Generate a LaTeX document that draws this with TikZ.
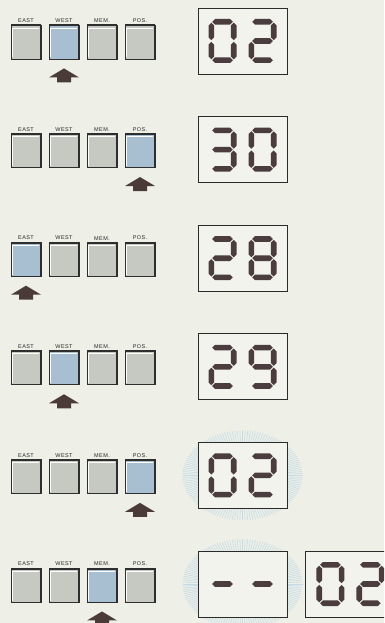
\documentclass[tikz,border=0pt]{standalone}
\usepackage{fontspec}
\newfontfamily\lblfont[LetterSpace=8]{Liberation Sans}
\usetikzlibrary{positioning}
\definecolor{paper}{HTML}{EEF0E8}
\definecolor{btngray}{HTML}{C6C9C1}
\definecolor{btnblue}{HTML}{A7BFD1}
\definecolor{btnedge}{HTML}{2E2E2E}
\definecolor{segdark}{HTML}{4B3C3D}
\definecolor{pointerdark}{HTML}{4A3A38}
\definecolor{lcdfill}{HTML}{F1F3EC}
\definecolor{lcdedge}{HTML}{2A2A2A}
\definecolor{rayblue}{HTML}{C6DCE4}
\tikzset{
  btn/.style={minimum width=30pt,minimum height=34pt,inner sep=0pt,
    draw=btnedge,line width=0.9pt,fill=btngray,
    path picture={
      \draw[white,line width=0.8pt] ([shift={(1.5pt,1.5pt)}]path picture bounding box.south west)
        |- ([shift={(-2.5pt,-3pt)}]path picture bounding box.north east);
      \draw[btnedge,line width=3pt] (path picture bounding box.north west) -- (path picture bounding box.north east);
      \draw[btnedge,line width=2pt] (path picture bounding box.north east) -- (path picture bounding box.south east);
    }},
  btnon/.style={btn,fill=btnblue},
  keylbl/.style={font=\lblfont\fontsize{5.5}{6}\selectfont,inner sep=0.5pt,text=black!85},
  lcd/.style={draw=lcdedge,line width=0.9pt,fill=lcdfill,minimum width=89pt,minimum height=66pt,inner sep=0pt},
  seg/.style={fill=segdark},
  pointer/.style={fill=pointerdark},
  ray/.style={draw=rayblue,line width=0.6pt},
  pics/lcddigit/.style={code={\csname lcd#1\endcsname}}
}
% seven segment pieces
\newcommand\segH[2]{\fill[seg] (#1-10.3,#2) -- ++(2.8,2.8) -- ++(15,0) -- ++(2.8,-2.8) -- ++(-2.8,-2.8) -- ++(-15,0) -- cycle;}
\newcommand\segV[2]{\fill[seg] (#1,#2) -- ++(2.8,-2.8) -- ++(0,-11.8) -- ++(-2.8,-2.8) -- ++(-2.8,2.8) -- ++(0,11.8) -- cycle;}
\newcommand\segA{\segH{0}{19.2}}
\newcommand\segG{\segH{0}{0}}
\newcommand\segD{\segH{0}{-19.2}}
\newcommand\segF{\segV{-11.2}{18.3}}
\newcommand\segB{\segV{11.2}{18.3}}
\newcommand\segE{\segV{-11.2}{-0.9}}
\newcommand\segC{\segV{11.2}{-0.9}}
\newcommand\lcdzero{\segA\segB\segC\segD\segE\segF}
\newcommand\lcdtwo{\segA\segB\segG\segE\segD}
\newcommand\lcdthree{\segA\segB\segG\segC\segD}
\newcommand\lcdeight{\segA\segB\segC\segD\segE\segF\segG}
\newcommand\lcdnine{\segA\segB\segC\segD\segF\segG}
\newcommand\lcddash{\segG}

\begin{document}
\begin{tikzpicture}[x=1pt,y=1pt]
  \fill[paper] (0,0) rectangle (384,-623);
  \useasboundingbox (0,0) rectangle (384,-623);
  \clip (0,0) rectangle (384,-623);

  % flashing displays
  \foreach \r in {4,5}{
    \pgfmathsetmacro\cy{-(25+108.6*\r)-16}
    \foreach \a in {0,2.5,...,357.5}
      \draw[ray] (242.5,\cy) ++(\a:40 and 28) -- ++(\a:20 and 17);
  }

  \foreach \r/\p/\da/\db in {0/1/zero/two,1/3/three/zero,2/0/two/eight,3/1/two/nine,4/3/zero/two,5/2/dash/dash}{
    \pgfmathsetmacro\ty{-(25+108.6*\r)}
    \foreach \txt [count=\i from 0] in {EAST,WEST,MEM.,POS.}{
      \ifnum\i=\p\def\kst{btnon}\else\def\kst{btn}\fi
      \node[\kst,label={[keylbl,label distance=1pt]above:\txt}] (k\r-\i) at (26+38*\i,\ty-17) {};
    }
    \fill[pointer] ([yshift=-9pt]k\r-\p.south) -- ++(15,-9) -- ++(-8,0) -- ++(0,-5)
      -- ++(-14,0) -- ++(0,5) -- ++(-8,0) -- cycle;
    \node[lcd] (d\r) at (242.5,\ty-16) {};
    \pic[xshift=-20pt] at (d\r) {lcddigit=\da};
    \pic[xshift=20pt] at (d\r) {lcddigit=\db};
  }

  \node[lcd,right=18pt of d5] (d5b) {};
  \pic[xshift=-20pt] at (d5b) {lcddigit=zero};
  \pic[xshift=20pt] at (d5b) {lcddigit=two};
\end{tikzpicture}
\end{document}
